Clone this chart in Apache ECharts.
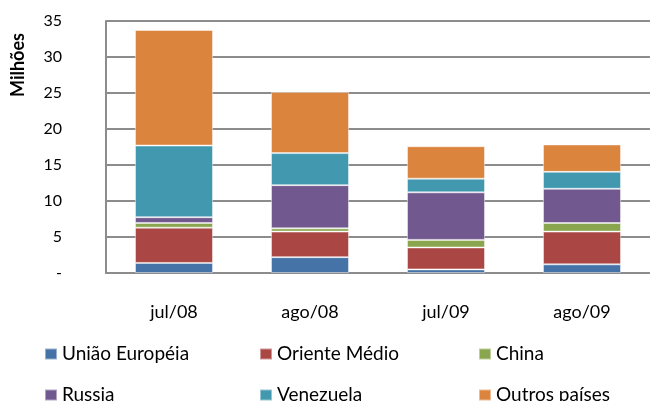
<!DOCTYPE html>
<html>
<head>
<meta charset="utf-8">
<script src="https://cdn.jsdelivr.net/npm/echarts@6/dist/echarts.min.js"></script>
<style>html,body{margin:0;padding:0;background:#fff}#c{width:650px;height:401px}</style>
</head>
<body>
<div id="c"></div>
<script>
const categories = ['jul/08', 'ago/08', 'jul/09', 'ago/09'];
const uniaoEuropeia = [1.4, 2.2, 0.5, 1.2];
const orienteMedio = [4.9, 3.55, 3.05, 4.55];
const china = [0.65, 0.45, 1.05, 1.2];
const russia = [0.8, 6.0, 6.6, 4.75];
const venezuela = [9.95, 4.45, 1.9, 2.35];
const outrosPaises = [16.05, 8.5, 4.5, 3.8];
const yTickLabels = {0: '-', 5: '5', 10: '10', 15: '15', 20: '20', 25: '25', 30: '30', 35: '35'};

const seriesDefs = [
  ['União Européia', uniaoEuropeia, '#4572A7'],
  ['Oriente Médio', orienteMedio, '#AA4643'],
  ['China', china, '#89A54E'],
  ['Russia', russia, '#71588F'],
  ['Venezuela', venezuela, '#4198AF'],
  ['Outros países', outrosPaises, '#DB843D']
];
const FONT = 'Lato';
const legendPos = [[44, 343], [259, 343], [478, 343], [44, 384], [259, 384], [478, 384]];

const chart = echarts.init(document.getElementById('c'), null, {renderer: 'canvas'});
chart.setOption({
  animation: false,
  textStyle: {fontFamily: FONT},
  title: {
    text: '(kg, por mês e área de destino)',
    left: 205, top: -18, padding: 0,
    textStyle: {fontFamily: FONT, fontSize: 18, fontWeight: 'bold', color: '#000'}
  },
  grid: {left: 106, top: 21, right: -4, bottom: 128},
  xAxis: {
    type: 'category',
    data: categories,
    axisLine: {lineStyle: {color: '#8c8c8c', width: 2}},
    axisTick: {show: false},
    axisLabel: {color: '#000', fontSize: 18, margin: 30, fontFamily: FONT}
  },
  yAxis: {
    type: 'value',
    min: 0, max: 35, interval: 5,
    axisLine: {show: true, lineStyle: {color: '#8c8c8c', width: 2}},
    axisTick: {show: false},
    splitLine: {lineStyle: {color: '#8c8c8c', width: 2}},
    axisLabel: {color: '#000', fontSize: 16, margin: 44, fontFamily: FONT,
      formatter: v => yTickLabels[v] !== undefined ? yTickLabels[v] : ''}
  },
  graphic: [{
    type: 'text',
    x: 18.5, y: 65,
    rotation: Math.PI / 2,
    style: {text: 'Milhões', fontFamily: FONT, fontSize: 18, fontWeight: 'bold', fill: '#000',
      align: 'center', verticalAlign: 'middle'}
  }],
  legend: seriesDefs.map((s, i) => ({
    data: [s[0]],
    left: legendPos[i][0], top: legendPos[i][1],
    padding: 0,
    itemWidth: 12, itemHeight: 11, itemGap: 5,
    icon: 'rect',
    textStyle: {fontFamily: FONT, fontSize: 19, color: '#000', lineHeight: 22}
  })),
  series: seriesDefs.map(s => ({
    name: s[0],
    type: 'bar',
    stack: 'total',
    barWidth: 78,
    data: s[1],
    itemStyle: {color: s[2], borderColor: 'rgba(255,255,255,0.45)', borderWidth: 1}
  }))
});
</script>
</body>
</html>
